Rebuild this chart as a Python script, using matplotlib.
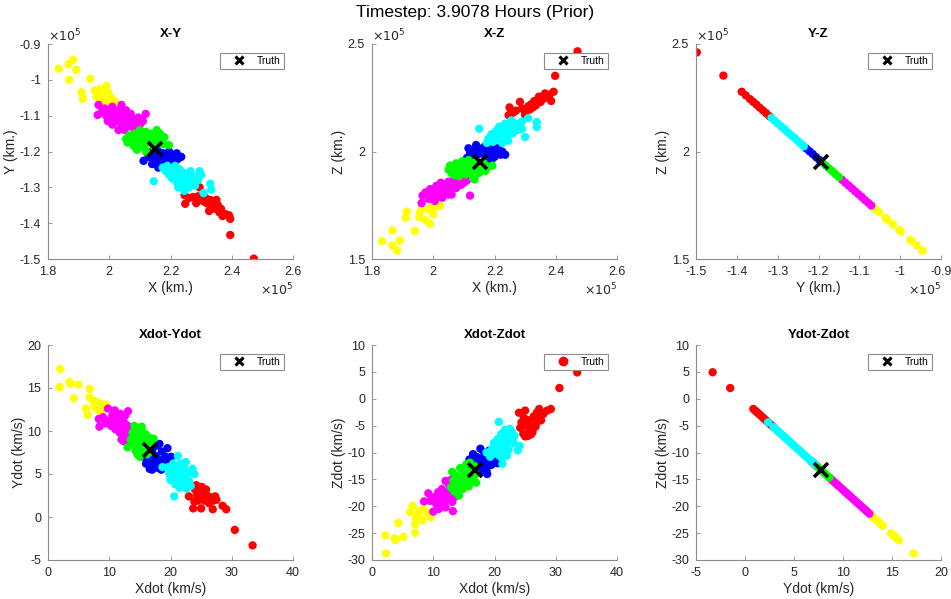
import matplotlib
matplotlib.use("Agg")
import matplotlib.pyplot as plt
from matplotlib.ticker import FuncFormatter, FixedLocator
from matplotlib.lines import Line2D

plt.rcParams['font.family'] = ['Liberation Sans', 'DejaVu Sans']
plt.rcParams['axes.unicode_minus'] = False

SUPTITLE = "Timestep: 3.9078 Hours (Prior)"
SCALE = 1e5  # position panels are in units of 1e5 km

# ---------------- X-Y (units 1e5 km) ----------------
XY_RED = [(2.246,-1.322),(2.248,-1.346),(2.26,-1.33),(2.273,-1.327),(2.284,-1.344),(2.29,-1.325),
          (2.295,-1.335),(2.30,-1.33),(2.31,-1.34),(2.315,-1.33),(2.32,-1.345),(2.326,-1.366),
          (2.33,-1.335),(2.335,-1.35),(2.34,-1.34),(2.345,-1.36),(2.35,-1.335),(2.355,-1.35),
          (2.36,-1.37),(2.365,-1.36),(2.37,-1.38),(2.38,-1.375),(2.391,-1.378),(2.395,-1.388),
          (2.395,-1.433),(2.472,-1.499),(2.295,-1.30)]
XY_BLUE = [(2.112,-1.226),(2.125,-1.205),(2.13,-1.215),(2.14,-1.20),(2.145,-1.225),(2.15,-1.21),
           (2.155,-1.235),(2.16,-1.20),(2.165,-1.22),(2.17,-1.24),(2.175,-1.205),(2.18,-1.225),
           (2.185,-1.21),(2.19,-1.235),(2.195,-1.20),(2.20,-1.22),(2.205,-1.245),(2.21,-1.21),
           (2.215,-1.23),(2.22,-1.205),(2.225,-1.22),(2.16,-1.245),(2.14,-1.235),(2.235,-1.215)]
XY_YELLOW = [(1.835,-0.969),(1.867,-0.956),(1.882,-0.944),(1.892,-0.972),(1.869,-1.000),
             (1.938,-0.997),(1.909,-1.035),(1.914,-1.053),(1.953,-1.030),(1.969,-1.026),
             (1.991,-1.017),(1.958,-1.047),(1.974,-1.042),(1.996,-1.035),(1.982,-1.051),
             (2.007,-1.051),(2.018,-1.060),(2.001,-1.065),(2.023,-1.073),(1.969,-1.056),
             (1.991,-1.060)]
XY_MAGENTA = [(1.965,-1.070),(1.962,-1.098),(1.975,-1.090),(1.985,-1.080),(1.99,-1.100),
              (2.00,-1.085),(2.005,-1.105),(2.01,-1.075),(2.02,-1.095),(2.02,-1.115),
              (2.03,-1.085),(2.035,-1.105),(2.04,-1.07),(2.04,-1.125),(2.045,-1.095),
              (2.05,-1.115),(2.055,-1.085),(2.06,-1.105),(2.06,-1.13),(2.07,-1.095),
              (2.07,-1.12),(2.08,-1.11),(2.08,-1.135),(2.09,-1.12),(2.095,-1.105),
              (2.10,-1.125),(2.11,-1.115),(2.119,-1.095),(2.03,-1.14),(2.05,-1.14),
              (1.995,-1.115),(2.01,-1.125),(2.085,-1.145)]
XY_GREEN = [(2.055,-1.165),(2.06,-1.175),(2.065,-1.155),(2.075,-1.17),(2.08,-1.185),(2.085,-1.15),
            (2.09,-1.165),(2.095,-1.18),(2.10,-1.14),(2.105,-1.155),(2.11,-1.17),(2.115,-1.19),
            (2.12,-1.145),(2.125,-1.16),(2.13,-1.175),(2.135,-1.15),(2.14,-1.165),(2.145,-1.185),
            (2.15,-1.155),(2.16,-1.17),(2.165,-1.15),(2.17,-1.165),(2.175,-1.18),(2.18,-1.16),
            (2.195,-1.182),(2.09,-1.195),(2.12,-1.20),(2.07,-1.16),(2.155,-1.14)]
XY_CYAN = [(2.145,-1.283),(2.175,-1.245),(2.185,-1.255),(2.19,-1.24),(2.195,-1.265),(2.20,-1.25),
           (2.205,-1.275),(2.21,-1.26),(2.215,-1.24),(2.22,-1.285),(2.225,-1.265),(2.23,-1.25),
           (2.235,-1.275),(2.24,-1.295),(2.245,-1.26),(2.25,-1.285),(2.255,-1.27),(2.26,-1.30),
           (2.265,-1.255),(2.27,-1.285),(2.275,-1.27),(2.28,-1.295),(2.29,-1.28),(2.295,-1.255),
           (2.30,-1.265),(2.33,-1.29),(2.333,-1.306),(2.308,-1.316),(2.225,-1.30),(2.245,-1.31)]
XY_TRUTH = (2.150, -1.193)

# ---------------- X-Z (units 1e5 km) ----------------
XZ_RED = [(2.246,2.169),(2.249,2.205),(2.26,2.18),(2.27,2.19),(2.283,2.231),(2.29,2.20),(2.30,2.185),
          (2.31,2.21),(2.315,2.195),(2.32,2.22),(2.325,2.205),(2.33,2.235),(2.335,2.215),(2.345,2.255),
          (2.35,2.23),(2.36,2.245),(2.365,2.27),(2.37,2.255),(2.38,2.265),(2.385,2.235),(2.393,2.278),
          (2.398,2.352),(2.471,2.466),(2.30,2.17)]
XZ_BLUE = [(2.11,1.97),(2.115,2.015),(2.12,1.99),(2.13,1.975),(2.135,2.005),(2.14,2.03),(2.145,1.985),
           (2.15,2.01),(2.16,1.995),(2.165,2.02),(2.17,1.98),(2.175,2.005),(2.18,2.025),(2.185,1.99),
           (2.19,2.01),(2.20,1.975),(2.205,1.995),(2.21,2.015),(2.22,1.985),(2.225,2.0),(2.235,1.985),
           (2.17,1.955),(2.19,1.96)]
XZ_YELLOW = [(1.833,1.583),(1.867,1.633),(1.867,1.563),(1.882,1.539),(1.891,1.586),(1.910,1.692),
             (1.914,1.720),(1.940,1.630),(1.954,1.695),(1.956,1.716),(1.976,1.680),(1.989,1.664),
             (1.962,1.739),(1.983,1.731),(2.000,1.708),(2.005,1.742),(2.016,1.762),(1.994,1.752),
             (2.022,1.747)]
XZ_MAGENTA = [(1.962,1.760),(1.965,1.795),(1.975,1.810),(1.985,1.78),(1.99,1.825),(2.00,1.80),
              (2.005,1.77),(2.01,1.84),(2.015,1.815),(2.02,1.79),(2.025,1.855),(2.03,1.83),
              (2.035,1.805),(2.04,1.845),(2.045,1.82),(2.05,1.86),(2.055,1.835),(2.06,1.80),
              (2.065,1.85),(2.07,1.875),(2.075,1.83),(2.08,1.86),(2.09,1.845),(2.095,1.87),
              (2.10,1.855),(2.11,1.865),(2.12,1.795),(1.995,1.78),(2.03,1.785),(2.05,1.80)]
XZ_GREEN = [(2.05,1.915),(2.055,1.935),(2.06,1.90),(2.07,1.925),(2.075,1.945),(2.08,1.91),(2.085,1.885),
            (2.09,1.935),(2.095,1.955),(2.10,1.92),(2.105,1.895),(2.11,1.94),(2.115,1.96),(2.12,1.905),
            (2.125,1.93),(2.13,1.875),(2.135,1.95),(2.14,1.915),(2.145,1.935),(2.15,1.90),(2.16,1.925),
            (2.165,1.945),(2.17,1.91),(2.18,1.93),(2.193,1.934),(2.135,1.87),(2.07,1.89)]
XZ_CYAN = [(2.15,2.106),(2.175,2.04),(2.18,2.06),(2.19,2.08),(2.195,2.045),(2.20,2.07),(2.205,2.095),
           (2.21,2.055),(2.215,2.115),(2.22,2.08),(2.225,2.04),(2.23,2.10),(2.235,2.13),(2.24,2.065),
           (2.245,2.09),(2.25,2.115),(2.255,2.145),(2.26,2.085),(2.265,2.11),(2.27,2.13),(2.275,2.10),
           (2.28,2.12),(2.29,2.14),(2.30,2.067),(2.31,2.155),(2.338,2.137),(2.338,2.114),(2.245,2.05),
           (2.29,2.105)]
XZ_TRUTH = (2.152, 1.950)

# ---------------- Y-Z (units 1e5 km) ----------------
YZ_RED = [(-1.498,2.461),(-1.433,2.353),(-1.388,2.278),(-1.378,2.261),(-1.368,2.244),(-1.360,2.231),
          (-1.352,2.218),(-1.344,2.204),(-1.336,2.191),(-1.328,2.178),(-1.320,2.164)]
YZ_BLUE = [(-1.230,2.014),(-1.222,2.001),(-1.214,1.988),(-1.206,1.974),(-1.198,1.961)]
YZ_YELLOW = [(-1.067,1.743),(-1.060,1.731),(-1.052,1.718),(-1.036,1.691),(-1.032,1.684),(-1.018,1.661),
             (-1.002,1.634),(-0.998,1.628),(-0.975,1.589),(-0.972,1.584),(-0.959,1.563),(-0.945,1.539)]
YZ_MAGENTA = [(-1.142,1.868),(-1.134,1.854),(-1.126,1.841),(-1.118,1.828),(-1.110,1.814),(-1.102,1.801),
              (-1.094,1.788),(-1.086,1.774),(-1.078,1.761),(-1.071,1.749)]
YZ_GREEN = [(-1.190,1.948),(-1.182,1.934),(-1.174,1.921),(-1.166,1.908),(-1.158,1.894),(-1.150,1.881)]
YZ_CYAN = [(-1.315,2.156),(-1.307,2.143),(-1.299,2.129),(-1.291,2.116),(-1.283,2.103),(-1.275,2.089),
           (-1.267,2.076),(-1.259,2.063),(-1.251,2.049),(-1.243,2.036),(-1.236,2.024)]
YZ_TRUTH = (-1.193, 1.953)

# ---------------- Xdot-Ydot (km/s) ----------------
VXY_RED = [(23.0,2.4),(23.7,1.0),(23.9,1.8),(24.0,3.2),(24.2,3.7),(24.3,2.6),(24.6,3.0),(24.8,2.2),
           (25.0,1.0),(25.1,3.5),(25.3,2.7),(25.6,1.9),(25.8,3.2),(26.0,2.5),(26.3,1.6),(26.5,2.3),
           (26.9,0.9),(27.0,1.9),(27.3,2.4),(27.5,2.0),(28.5,1.3),(29.1,0.9),(30.5,-1.5),(33.4,-3.3),
           (24.5,1.9),(25.5,2.2)]
VXY_BLUE = [(15.6,7.0),(16.0,6.2),(16.3,7.4),(16.6,5.6),(16.8,6.6),(17.0,7.8),(17.3,6.2),(17.6,7.1),
            (17.8,8.3),(18.0,5.7),(18.2,8.5),(18.3,6.6),(18.6,7.6),(18.9,6.1),(19.2,7.0),(19.5,8.0),
            (19.8,6.5),(20.1,7.0),(17.0,5.5),(18.5,5.5)]
VXY_YELLOW = [(2.0,17.2),(1.9,15.1),(3.5,15.7),(3.65,15.5),(4.95,15.4),(4.2,13.8),(6.8,14.9),(6.8,13.9),
              (6.15,12.6),(6.5,11.9),(7.35,13.55),(7.6,12.85),(8.15,13.35),(8.3,12.4),(9.0,13.0),
              (9.4,13.1),(8.7,12.2),(7.9,12.6)]
VXY_MAGENTA = [(8.3,11.4),(8.4,10.5),(9.0,11.6),(9.4,10.9),(9.8,12.6),(10.0,11.2),(10.3,10.6),(10.5,11.8),
               (10.8,11.0),(10.9,12.4),(11.0,10.2),(11.3,11.5),(11.5,10.7),(11.7,9.8),(11.8,12.0),
               (12.0,11.2),(12.2,10.3),(12.3,9.4),(12.5,10.9),(12.6,11.8),(12.8,10.0),(12.9,9.1),
               (13.0,10.6),(13.06,12.3),(13.3,9.6),(13.5,8.6),(13.6,10.2),(13.0,8.9),(12.0,9.0),(12.4,8.8)]
VXY_GREEN = [(13.0,8.1),(13.5,9.0),(13.8,9.8),(14.0,8.5),(14.1,10.6),(14.3,7.7),(14.5,9.3),(14.7,10.2),
             (14.9,8.2),(15.0,7.0),(15.2,9.0),(15.4,9.9),(15.6,7.6),(15.8,8.6),(16.0,9.6),(16.2,7.3),
             (16.4,8.3),(16.6,9.2),(17.0,8.8),(17.25,9.1),(15.3,10.5),(14.6,7.3)]
VXY_CYAN = [(18.7,5.8),(19.6,5.8),(19.8,5.0),(20.0,4.3),(20.2,5.5),(20.4,6.2),(20.6,4.8),(20.6,2.4),
            (20.8,3.8),(21.0,5.4),(21.2,7.1),(21.2,4.4),(21.5,3.4),(21.6,6.2),(21.8,5.0),(22.0,3.9),
            (22.2,5.8),(22.3,4.5),(22.6,3.3),(22.8,5.1),(23.0,4.2),(23.3,3.6),(23.6,5.6),(23.9,5.0),
            (21.4,5.6),(22.5,6.4)]
VXY_TRUTH = (16.7, 7.75)

# ---------------- Xdot-Zdot (km/s) ----------------
VXZ_RED = [(24.0,-2.6),(24.2,-5.4),(24.4,-4.4),(24.7,-6.5),(25.0,-2.2),(25.1,-5.0),(25.3,-3.9),(25.5,-6.9),
           (25.7,-5.6),(26.0,-4.5),(26.2,-6.2),(26.4,-3.3),(26.7,-5.2),(26.9,-2.6),(27.0,-4.3),(27.3,-1.9),
           (27.6,-4.0),(28.0,-2.8),(28.6,-2.2),(29.2,-1.9),(30.6,2.0),(33.5,4.9),(25.0,-7.0),(26.0,-6.6),
           (24.8,-3.6),(27.5,-3.3)]
VXZ_BLUE = [(15.6,-12.2),(15.9,-11.3),(16.3,-12.5),(16.5,-10.3),(16.8,-11.8),(17.0,-13.3),(17.2,-10.9),
            (17.5,-12.2),(17.7,-9.3),(17.9,-13.5),(18.0,-11.2),(18.3,-10.0),(18.5,-12.5),(18.8,-14.0),
            (19.0,-11.3),(19.2,-9.6),(19.5,-12.3),(19.8,-10.6),(20.2,-11.6),(20.5,-12.0),(18.7,-13.3),
            (16.8,-14.0)]
VXZ_YELLOW = [(2.17,-25.4),(2.28,-28.8),(3.74,-26.0),(3.8,-26.3),(4.29,-23.1),(5.10,-25.7),(7.05,-24.9),
              (6.24,-21.1),(6.62,-19.9),(7.05,-23.3),(7.16,-22.3),(7.70,-20.9),(8.25,-22.6),(8.41,-20.6),
              (9.06,-21.3),(9.6,-22.0),(7.4,-21.7)]
VXZ_MAGENTA = [(8.5,-19.1),(9.2,-17.6),(9.5,-19.0),(10.0,-21.0),(10.2,-18.3),(10.5,-19.6),(10.8,-17.4),
               (11.0,-18.8),(11.2,-20.0),(11.4,-16.8),(11.6,-18.1),(11.8,-19.4),(12.0,-15.3),(12.2,-17.3),
               (12.4,-18.6),(12.6,-16.0),(12.8,-17.8),(13.0,-15.0),(13.1,-19.2),(13.2,-20.9),(13.4,-16.7),
               (13.6,-18.2),(12.0,-20.2),(10.9,-20.5)]
VXZ_GREEN = [(12.9,-16.5),(13.1,-13.6),(13.3,-15.2),(13.5,-17.3),(13.8,-14.3),(14.0,-16.0),(14.2,-18.0),
             (14.4,-12.9),(14.6,-15.0),(14.8,-16.8),(15.0,-13.7),(15.2,-15.7),(15.4,-12.2),(15.6,-14.5),
             (15.8,-16.3),(16.0,-11.9),(16.2,-13.5),(16.4,-15.2),(16.7,-12.5),(17.0,-14.0),(17.0,-15.6),
             (14.0,-17.7)]
VXZ_CYAN = [(18.7,-10.0),(19.3,-10.8),(19.6,-9.3),(19.9,-8.2),(20.1,-10.2),(20.3,-9.0),(20.5,-7.5),
            (20.7,-4.3),(20.8,-10.6),(20.9,-8.4),(21.1,-6.6),(21.3,-12.1),(21.3,-9.5),(21.5,-7.6),
            (21.7,-5.8),(21.9,-8.6),(22.1,-6.8),(22.3,-9.5),(22.5,-5.6),(22.7,-7.8),(22.9,-6.2),
            (23.1,-8.2),(23.3,-6.9),(23.8,-9.6),(24.1,-8.8),(22.0,-10.6),(21.2,-11.0)]
VXZ_TRUTH = (16.8, -13.3)

# ---------------- Ydot-Zdot (km/s) ----------------
VYZ_RED = [(-3.30,4.93),(-1.51,1.99),(0.85,-1.90),(1.05,-2.23),(1.25,-2.55),(1.45,-2.88),(1.65,-3.21),
           (1.85,-3.54),(2.05,-3.87),(2.25,-4.20),(2.45,-4.53),(2.65,-4.86),(2.85,-5.19)]
VYZ_BLUE = [(6.8,-11.68),(7.0,-12.01),(7.1,-12.18)]
VYZ_YELLOW = [(12.9,-21.72),(13.1,-22.05),(13.3,-22.38),(13.5,-22.71),(13.7,-23.04),(13.9,-23.36),
              (14.05,-23.61),(14.9,-25.01),(15.1,-25.34),(15.3,-25.67),(15.5,-26.00),(15.7,-26.33),
              (17.2,-28.79)]
VYZ_MAGENTA = [(8.7,-14.81),(8.9,-15.14),(9.1,-15.47),(9.3,-15.80),(9.5,-16.13),(9.7,-16.46),(9.9,-16.78),
               (10.1,-17.11),(10.3,-17.44),(10.5,-17.77),(10.7,-18.10),(10.9,-18.43),(11.1,-18.76),
               (11.3,-19.09),(11.5,-19.42),(11.7,-19.75),(11.9,-20.07),(12.1,-20.40),(12.3,-20.73),
               (12.5,-21.06),(12.7,-21.39)]
VYZ_GREEN = [(7.2,-12.34),(7.4,-12.67),(7.6,-13.00),(7.8,-13.33),(8.0,-13.66),(8.2,-13.99),(8.4,-14.32),
             (8.6,-14.65)]
VYZ_CYAN = [(2.36,-4.38),(2.9,-5.27),(3.1,-5.60),(3.3,-5.93),(3.5,-6.26),(3.7,-6.59),(3.9,-6.91),
            (4.1,-7.24),(4.3,-7.57),(4.5,-7.90),(4.7,-8.23),(4.9,-8.56),(5.1,-8.89),(5.3,-9.22),
            (5.5,-9.55),(5.7,-9.88),(5.9,-10.20),(6.1,-10.53),(6.3,-10.86),(6.5,-11.19),(6.7,-11.52),
            (6.9,-11.85),(7.05,-12.10)]
VYZ_TRUTH = (7.8, -13.2)

TITLES = ["X-Y", "X-Z", "Y-Z", "Xdot-Ydot", "Xdot-Zdot", "Ydot-Zdot"]
XLABELS = ["X (km.)", "X (km.)", "Y (km.)", "Xdot (km/s)", "Xdot (km/s)", "Ydot (km/s)"]
YLABELS = ["Y (km.)", "Z (km.)", "Z (km.)", "Ydot (km/s)", "Zdot (km/s)", "Zdot (km/s)"]
XTICKS = [[1.8, 2.0, 2.2, 2.4, 2.6], [1.8, 2.0, 2.2, 2.4, 2.6], [-1.5, -1.4, -1.3, -1.2, -1.1, -1.0, -0.9],
          [0, 10, 20, 30, 40], [0, 10, 20, 30, 40], [-5, 0, 5, 10, 15, 20]]
YTICKS = [[-1.5, -1.4, -1.3, -1.2, -1.1, -1.0, -0.9], [1.5, 2.0, 2.5], [1.5, 2.0, 2.5],
          [-5, 0, 5, 10, 15, 20], [-30, -25, -20, -15, -10, -5, 0, 5, 10], [-30, -25, -20, -15, -10, -5, 0, 5, 10]]
SCALED = [True, True, True, False, False, False]

PANELS = [
    [XY_RED, XY_BLUE, XY_YELLOW, XY_MAGENTA, XY_GREEN, XY_CYAN, XY_TRUTH],
    [XZ_RED, XZ_BLUE, XZ_YELLOW, XZ_MAGENTA, XZ_GREEN, XZ_CYAN, XZ_TRUTH],
    [YZ_RED, YZ_BLUE, YZ_YELLOW, YZ_MAGENTA, YZ_GREEN, YZ_CYAN, YZ_TRUTH],
    [VXY_RED, VXY_BLUE, VXY_YELLOW, VXY_MAGENTA, VXY_GREEN, VXY_CYAN, VXY_TRUTH],
    [VXZ_RED, VXZ_BLUE, VXZ_YELLOW, VXZ_MAGENTA, VXZ_GREEN, VXZ_CYAN, VXZ_TRUTH],
    [VYZ_RED, VYZ_BLUE, VYZ_YELLOW, VYZ_MAGENTA, VYZ_GREEN, VYZ_CYAN, VYZ_TRUTH],
]
COLORS = ['#ff0000', '#0000ff', '#ffff00', '#ff00ff', '#00ff00', '#00ffff']
LEGEND_USES_RED = [False, False, False, False, True, False]

TXT_COLOR = '#262626'
SPINE_COLOR = '#8c8c8c'

fig = plt.figure(figsize=(9.51, 5.99), dpi=100)
lefts = [48/951, 372/951, 696/951]
width = 245/951
bottoms = [1 - 259/599, 1 - 560/599]
height = 215/599

fig.text(0.5, 1 - 12/599, SUPTITLE, ha='center', va='center', fontsize=12.5, color='black')

for i in range(6):
    r, c = divmod(i, 3)
    ax = fig.add_axes([lefts[c], bottoms[r], width, height])
    data = PANELS[i]
    s = SCALE if SCALED[i] else 1.0
    for pts, col in zip(data[:6], COLORS):
        xs = [p[0] * s for p in pts]
        ys = [p[1] * s for p in pts]
        ax.scatter(xs, ys, s=36, c=col, edgecolors='none', zorder=2)
    tx, ty = data[6]
    ax.plot([tx * s], [ty * s], linestyle='none', marker='x', color='black',
            markersize=10, markeredgewidth=2.6, zorder=5)

    xt = XTICKS[i]; yt = YTICKS[i]
    ax.set_xlim(xt[0] * s, xt[-1] * s)
    ax.set_ylim(yt[0] * s, yt[-1] * s)
    ax.xaxis.set_major_locator(FixedLocator([v * s for v in xt]))
    ax.yaxis.set_major_locator(FixedLocator([v * s for v in yt]))
    fmt = FuncFormatter(lambda v, p, s=s: f"{round(v / s, 6):g}")
    ax.xaxis.set_major_formatter(fmt)
    ax.yaxis.set_major_formatter(fmt)

    for side in ['top', 'right']:
        ax.spines[side].set_visible(False)
    for side in ['left', 'bottom']:
        ax.spines[side].set_color(SPINE_COLOR)
        ax.spines[side].set_linewidth(0.8)
    ax.tick_params(direction='in', length=3, width=0.6, color=SPINE_COLOR,
                   labelcolor=TXT_COLOR, labelsize=9)
    ax.tick_params(axis='x', pad=5)
    ax.tick_params(axis='y', pad=5)

    ax.set_title(TITLES[i], fontsize=9.5, fontweight='bold', pad=5)
    ax.set_xlabel(XLABELS[i], fontsize=10, color=TXT_COLOR, labelpad=2.5)
    ax.set_ylabel(YLABELS[i], fontsize=10, color=TXT_COLOR, labelpad=1)

    if SCALED[i]:
        ax.text(0.0, 1.0, r'$\times10^{5}$', transform=ax.transAxes, ha='left', va='bottom',
                fontsize=9, color=TXT_COLOR)
        ax.text(1.0, -0.105, r'$\times10^{5}$', transform=ax.transAxes, ha='right', va='top',
                fontsize=9, color=TXT_COLOR)

    if LEGEND_USES_RED[i]:
        handle = Line2D([], [], linestyle='none', marker='o', color='#ff0000', markersize=6)
    else:
        handle = Line2D([], [], linestyle='none', marker='x', color='black', markersize=5.5,
                        markeredgewidth=2.2)
    leg = ax.legend([handle], ['Truth'], loc='upper right', fontsize=7.5, frameon=True,
                    fancybox=False, framealpha=1, edgecolor=SPINE_COLOR, borderpad=0.3,
                    handlelength=3.0, handletextpad=0.3, borderaxespad=0.85)
    leg.get_frame().set_linewidth(0.8)

fig.savefig("out.png", dpi=100)
